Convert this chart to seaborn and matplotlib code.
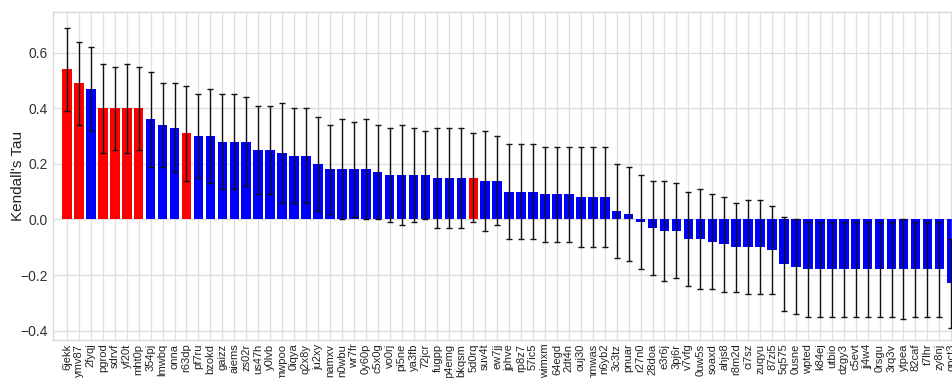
import matplotlib
matplotlib.use("Agg")
import matplotlib.pyplot as plt
import numpy as np
import pandas as pd
import seaborn as sns

# Sample identifiers, ranked by Kendall's tau
labels = [
    "6jekk", "ymv87", "2fyqj", "pgrod", "sdrvf", "yf20t", "mht0p", "354pj",
    "lmwbq", "onna", "r63dp", "pf7ru", "bzokd", "gaizz", "aiems", "zs02r",
    "us47h", "y0lvb", "mwpoo", "0iqya", "q2x8y", "ju2xy", "namxv", "n0wbu",
    "wr7fr", "0y60p", "c5x0g", "vo0rj", "pi5ne", "ya3fb", "72jcr", "fugpp",
    "p4emg", "bkqsm", "5d0rq", "suv4t", "ew7jj", "jphve", "rp8z7", "57ic5",
    "wimxm", "64egd", "2dt4n", "ouj30", "nmwas", "n6yb2", "3c3tz", "pnuar",
    "r27n0", "28doa", "e3r6j", "3pj6r", "v7vfg", "0uw5s", "soaxd", "ahjs8",
    "r8m2d", "ci7sz", "zuqyu", "87zi5", "5q575", "0usne", "wpted", "k84ej",
    "utbio", "dzgy3", "c5evt", "jj4w4", "0rsgu", "3rq3v", "ytpea", "82caf",
    "t7lhr", "zy8nj", "qpct3",
]

tau = [
    0.54, 0.49, 0.47, 0.40, 0.40, 0.40, 0.40, 0.36,
    0.34, 0.33, 0.31, 0.30, 0.30, 0.28, 0.28, 0.28,
    0.25, 0.25, 0.24, 0.23, 0.23, 0.20, 0.18, 0.18,
    0.18, 0.18, 0.17, 0.16, 0.16, 0.16, 0.16, 0.15,
    0.15, 0.15, 0.15, 0.14, 0.14, 0.10, 0.10, 0.10,
    0.09, 0.09, 0.09, 0.08, 0.08, 0.08, 0.03, 0.02,
    -0.01, -0.03, -0.04, -0.04, -0.07, -0.07, -0.08, -0.09,
    -0.10, -0.10, -0.10, -0.11, -0.16, -0.17, -0.18, -0.18,
    -0.18, -0.18, -0.18, -0.18, -0.18, -0.18, -0.18, -0.18,
    -0.18, -0.18, -0.23,
]

tau_err = [
    0.15, 0.15, 0.15, 0.16, 0.15, 0.16, 0.15, 0.17,
    0.15, 0.16, 0.17, 0.15, 0.17, 0.17, 0.17, 0.16,
    0.16, 0.16, 0.18, 0.17, 0.17, 0.17, 0.16, 0.18,
    0.17, 0.18, 0.17, 0.17, 0.18, 0.17, 0.16, 0.18,
    0.18, 0.18, 0.16, 0.18, 0.16, 0.17, 0.17, 0.17,
    0.17, 0.17, 0.17, 0.18, 0.18, 0.18, 0.17, 0.17,
    0.17, 0.17, 0.18, 0.17, 0.17, 0.18, 0.17, 0.17,
    0.16, 0.17, 0.17, 0.16, 0.17, 0.17, 0.17, 0.17,
    0.17, 0.17, 0.17, 0.17, 0.17, 0.17, 0.18, 0.17,
    0.17, 0.17, 0.16,
]

# Highlighted samples are drawn in red, the rest in blue
highlighted = {"6jekk", "ymv87", "pgrod", "sdrvf", "yf20t", "mht0p", "r63dp", "5d0rq"}
group = ["hi" if s in highlighted else "lo" for s in labels]

df = pd.DataFrame({"sample": labels, "tau": tau, "err": tau_err, "group": group})

sns.set_theme(style="whitegrid")
plt.rcParams["font.family"] = ["Liberation Sans", "DejaVu Sans"]

fig = plt.figure(figsize=(9.52, 3.78), dpi=100)
ax = fig.add_axes([53 / 952, 38.5 / 378, 1 - 53 / 952, (339.5 - 11.7) / 378])

sns.barplot(
    data=df, x="sample", y="tau", hue="group",
    palette={"hi": "#ff0000", "lo": "#0000ff"}, saturation=1,
    dodge=False, legend=False, errorbar=None, width=0.8,
    linewidth=0, ax=ax,
)
ax.errorbar(
    np.arange(len(labels)), df["tau"], yerr=df["err"],
    fmt="none", ecolor="#111111", elinewidth=1.0, capsize=2.5, capthick=1.0,
    zorder=3,
)

ax.set_xlim(-1.17, 74.06)
ax.set_ylim(-0.432, 0.748)
ax.set_yticks([-0.4, -0.2, 0.0, 0.2, 0.4, 0.6])
ax.set_yticklabels(["\u22120.4", "\u22120.2", "0.0", "0.2", "0.4", "0.6"])
ax.set_xlabel("")
ax.set_ylabel("Kendall's Tau", fontsize=11, color="#222222")
ax.yaxis.set_label_coords(-0.031, 0.5)
ax.tick_params(axis="y", labelsize=10, colors="#333333", length=0, pad=4)
ax.tick_params(axis="x", labelsize=8, colors="#222222", length=0, pad=3, rotation=90)

ax.grid(True, axis="both", color="#dedede", linewidth=0.9)
ax.set_axisbelow(True)
for sp in ax.spines.values():
    sp.set_color("#d8d8d8")
    sp.set_linewidth(1.0)

fig.savefig("out.png", dpi=100)
